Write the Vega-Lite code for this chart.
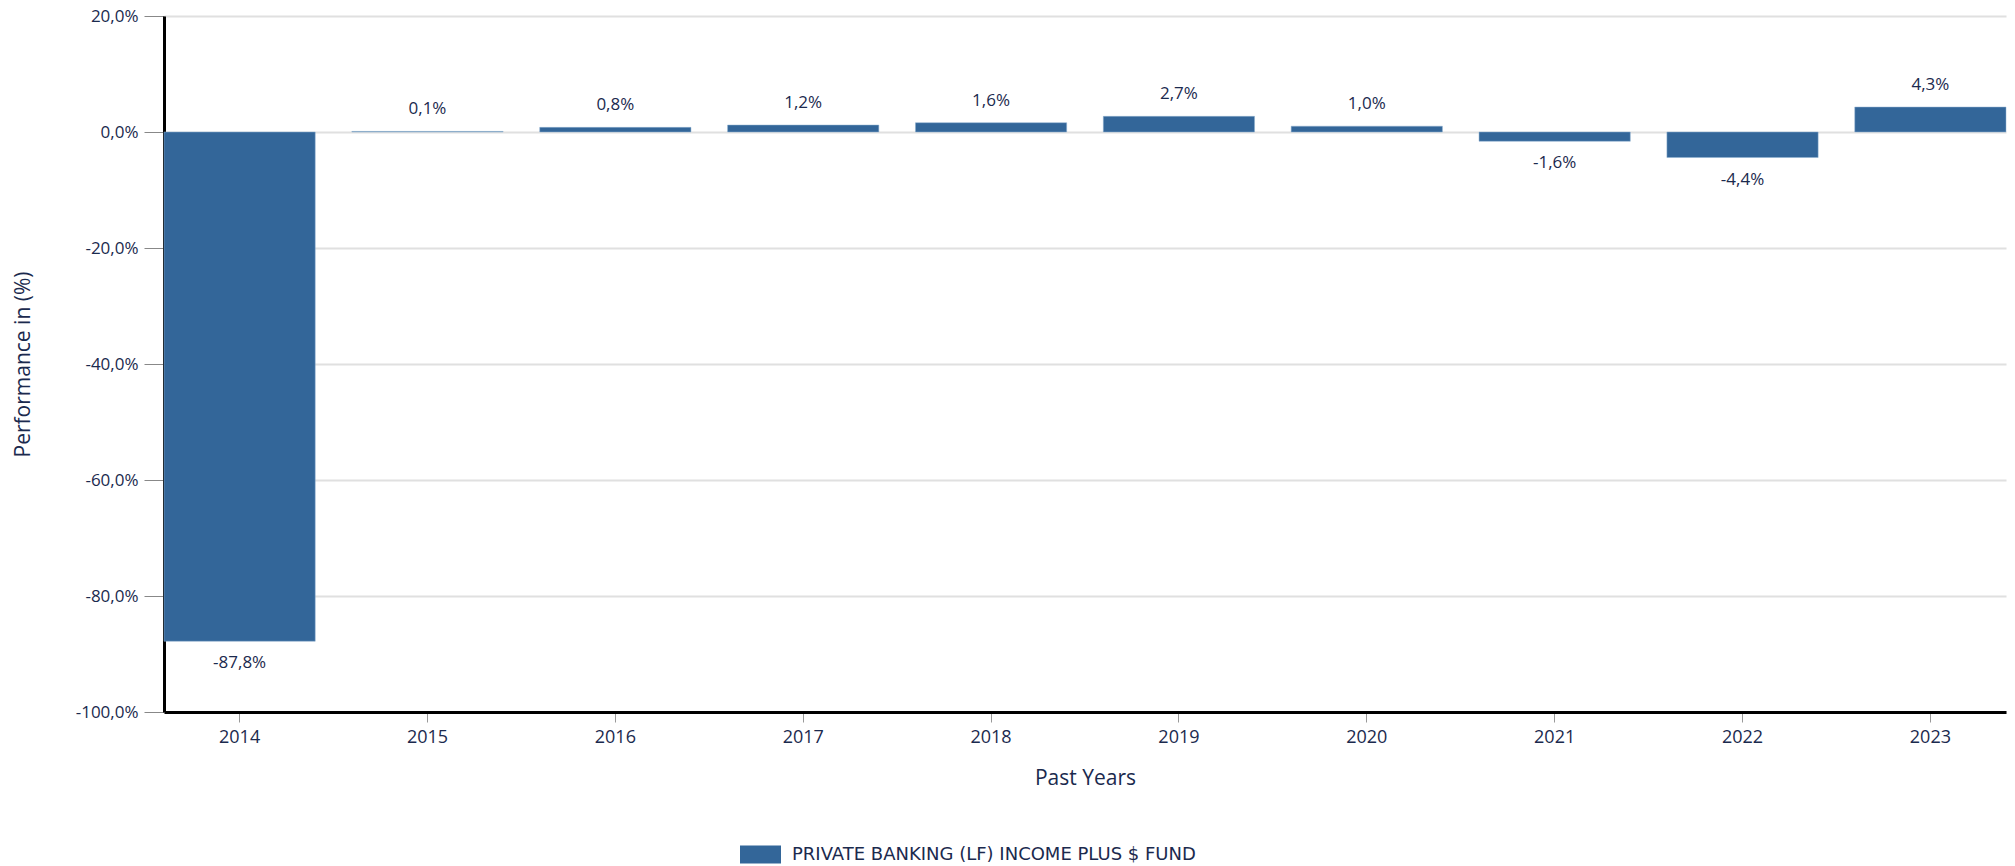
{
  "$schema": "https://vega.github.io/schema/vega-lite/v6.json",
  "autosize": "none",
  "width": 1842,
  "height": 696,
  "padding": {"left": 164, "top": 16, "right": 9, "bottom": 154},
  "background": "white",
  "data": {
    "values": [
      {"year": "2014", "perf": -87.8, "fund": "PRIVATE BANKING (LF) INCOME PLUS $ FUND"},
      {"year": "2015", "perf": 0.1, "fund": "PRIVATE BANKING (LF) INCOME PLUS $ FUND"},
      {"year": "2016", "perf": 0.8, "fund": "PRIVATE BANKING (LF) INCOME PLUS $ FUND"},
      {"year": "2017", "perf": 1.2, "fund": "PRIVATE BANKING (LF) INCOME PLUS $ FUND"},
      {"year": "2018", "perf": 1.6, "fund": "PRIVATE BANKING (LF) INCOME PLUS $ FUND"},
      {"year": "2019", "perf": 2.7, "fund": "PRIVATE BANKING (LF) INCOME PLUS $ FUND"},
      {"year": "2020", "perf": 1.0, "fund": "PRIVATE BANKING (LF) INCOME PLUS $ FUND"},
      {"year": "2021", "perf": -1.6, "fund": "PRIVATE BANKING (LF) INCOME PLUS $ FUND"},
      {"year": "2022", "perf": -4.4, "fund": "PRIVATE BANKING (LF) INCOME PLUS $ FUND"},
      {"year": "2023", "perf": 4.3, "fund": "PRIVATE BANKING (LF) INCOME PLUS $ FUND"}
    ]
  },
  "transform": [
    {"calculate": "replace(replace(format(datum.perf, '.1f'), '.', ','), '\u2212', '-') + '%'", "as": "label"}
  ],
  "encoding": {
    "x": {
      "field": "year",
      "type": "nominal",
      "scale": {"paddingInner": 0.195, "paddingOuter": 0},
      "axis": {
        "title": "Past Years",
        "labelAngle": 0,
        "domain": true,
        "domainColor": "#000000",
        "domainWidth": 3,
        "tickColor": "#999999",
        "tickSize": 10,
        "tickWidth": 1,
        "labelPadding": 6,
        "labelFontSize": 18,
        "labelColor": "#1b2a4e",
        "labelFont": "Open Sans",
        "titleFont": "Open Sans",
        "titleFontSize": 21,
        "titleFontWeight": "normal",
        "titleColor": "#1b2a4e",
        "titleY": 66,
        "titleBaseline": "middle",
        "grid": false
      }
    }
  },
  "layer": [
    {
      "mark": {"type": "bar", "stroke": "#8fb0d0", "strokeWidth": 0.5},
      "encoding": {
        "y": {
          "field": "perf",
          "type": "quantitative",
          "scale": {"domain": [-100, 20], "nice": false, "zero": true},
          "axis": {
            "title": "Performance in (%)",
            "values": [-100, -80, -60, -40, -20, 0, 20],
            "labelExpr": "replace(replace(format(datum.value, '.1f'), '.', ','), '\u2212', '-') + '%'",
            "domain": true,
            "domainColor": "#000000",
            "domainWidth": 3,
            "grid": true,
            "gridColor": "#e0e0e0",
            "gridWidth": 2,
            "tickColor": "#888888",
            "tickSize": 20,
            "tickWidth": 1,
            "labelPadding": 6,
            "labelFontSize": 17,
            "labelColor": "#1b2a4e",
            "labelFont": "Open Sans",
            "titleFont": "Open Sans",
            "titleFontSize": 21,
            "titleFontWeight": "normal",
            "titleColor": "#1b2a4e",
            "titleX": -141,
            "titleY": 348,
            "titleAngle": -90,
            "titleBaseline": "middle",
            "titleAlign": "center"
          }
        },
        "color": {
          "field": "fund",
          "type": "nominal",
          "scale": {"range": ["#336699"]},
          "legend": {
            "title": null,
            "orient": "none",
            "legendX": 576,
            "legendY": 818,
            "symbolType": "M-1,-0.44H1V0.44H-1Z",
            "symbolSize": 1681,
            "symbolStrokeWidth": 0,
            "labelOffset": 11,
            "labelFontSize": 18,
            "labelFont": "DejaVu Sans",
            "labelColor": "#1b2a4e",
            "labelLimit": 800
          }
        }
      }
    },
    {
      "transform": [{"filter": "datum.perf >= 0"}],
      "mark": {"type": "text", "dy": -22, "baseline": "middle", "fontSize": 17, "font": "Open Sans", "color": "#1b2a4e"},
      "encoding": {
        "y": {"field": "perf", "type": "quantitative"},
        "text": {"field": "label"}
      }
    },
    {
      "transform": [{"filter": "datum.perf < 0"}],
      "mark": {"type": "text", "dy": 22, "baseline": "middle", "fontSize": 17, "font": "Open Sans", "color": "#1b2a4e"},
      "encoding": {
        "y": {"field": "perf", "type": "quantitative"},
        "text": {"field": "label"}
      }
    }
  ],
  "config": {
    "view": {"stroke": null}
  }
}
